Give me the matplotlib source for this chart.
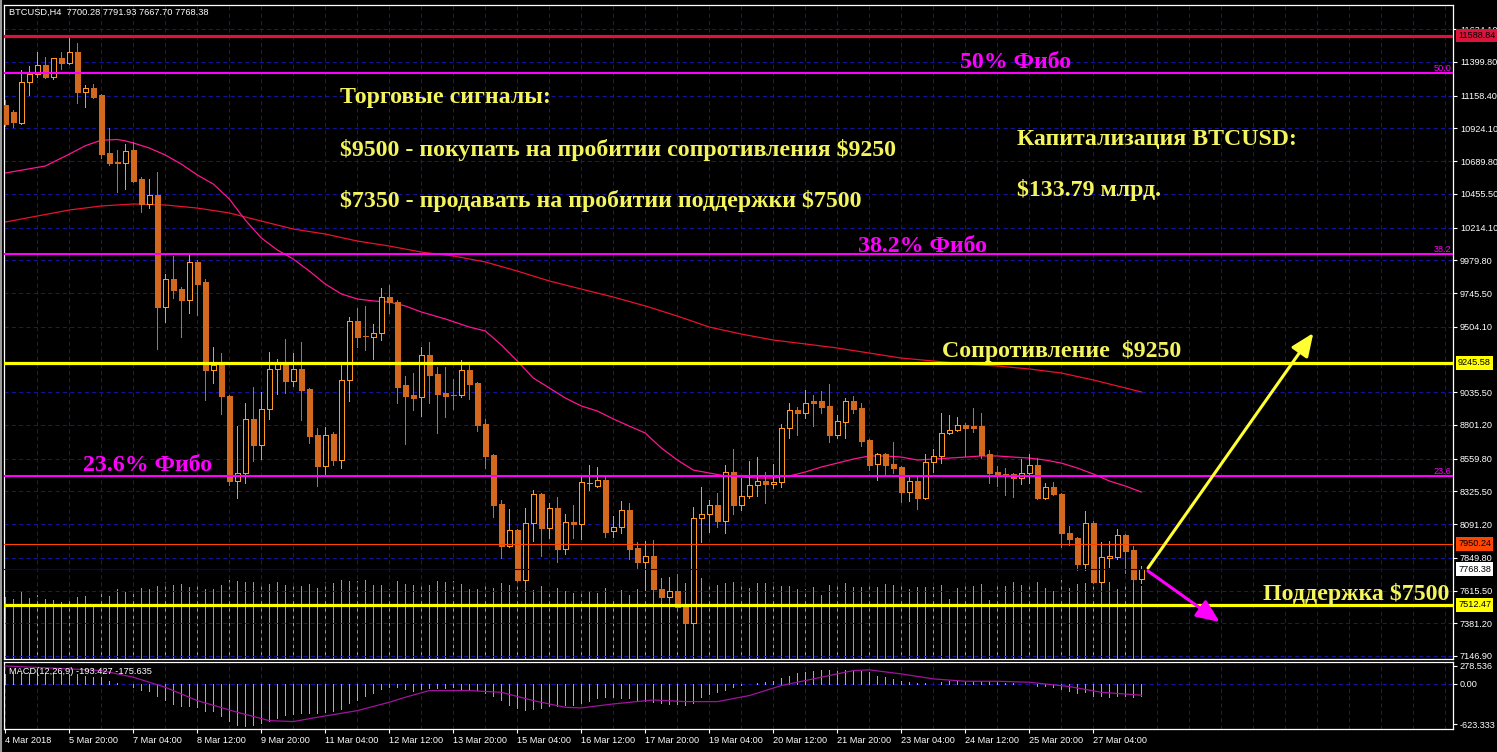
import numpy as np
import matplotlib
matplotlib.use('Agg')
import matplotlib.pyplot as plt
from matplotlib.lines import Line2D

plt.rcParams['font.family'] = ['Liberation Sans', 'DejaVu Sans']

# ---------------- data ----------------
opens = [11092,11042,10963,11257,11314,11378,11292,11428,11393,11471,
         11185,11214,11164,10748,10684,10677,10770,10562,10383,10448,
         9646,9846,9775,9696,9968,9825,9195,9230,9008,8400,
         8457,8844,8658,8915,9202,9245,9116,9202,9059,8729,
         8507,8736,8550,9123,9545,9438,9431,9459,9717,9681,
         9087,9016,9001,9302,9166,9030,9016,9016,9195,9101,
         8808,8586,8235,7934,8049,7691,8099,8307,8063,8206,
         7913,8106,8092,8386,8364,8407,8042,8070,8192,7920,
         7820,7863,7627,7569,7612,7512,7383,8135,8164,8228,
         8113,8464,8228,8292,8371,8400,8378,8393,8779,8908,
         8887,8972,8972,8937,8729,8822,8972,8922,8693,8522,
         8593,8522,8500,8321,8400,8278,8536,8579,8743,8765,
         8801,8794,8794,8593,8464,8450,8450,8421,8457,8514,
         8278,8357,8307,8027,7992,7806,8099,7677,7848,7856,
         8013,7906,7700.28]
highs = [11128,11056,11343,11371,11471,11436,11428,11471,11589,11536,
         11235,11242,11171,10927,10770,10813,10827,10576,10562,10612,
         9882,10011,9789,10018,9982,9846,9359,9316,9015,8794,
         8958,9073,9037,9323,9273,9417,9316,9395,9066,8779,
         8786,8751,9245,9574,9638,9653,9524,9782,9803,9696,
         9152,9173,9359,9395,9216,9216,9130,9266,9230,9109,
         8844,8593,8264,8199,8056,8206,8335,8314,8242,8285,
         8164,8228,8429,8514,8500,8429,8149,8257,8242,7963,
         7970,7977,7634,7712,7734,7519,8214,8357,8264,8314,
         8514,8629,8421,8543,8572,8464,8522,8808,8958,8930,
         9051,9016,9044,9094,8872,8994,9008,8958,8700,8600,
         8600,8679,8507,8429,8429,8593,8629,8887,8872,8858,
         8815,8922,8887,8622,8507,8493,8457,8557,8593,8564,
         8385,8393,8314,8077,7999,8185,8113,7963,7970,8056,
         8020,7934,7791.93]
lows = [10942,10934,10956,11164,11292,11285,11278,11350,11386,11106,
        11078,11142,10712,10662,10469,10491,10541,10326,10354,9345,
        9538,9710,9431,9603,9588,8980,9101,8880,8371,8278,
        8385,8543,8557,8844,9023,9030,9080,8837,8672,8364,
        8443,8514,8493,8973,9359,9338,9273,9409,9603,8958,
        8665,8908,8865,8958,8743,8858,8915,9001,8987,8758,
        8493,8142,7848,7927,7684,7669,7970,7863,7992,7820,
        7877,7992,7985,8335,8357,7999,7999,8027,7841,7770,
        7619,7605,7548,7548,7483,7376,7376,7963,8035,8070,
        8027,8164,8192,8278,8292,8242,8350,8357,8708,8729,
        8851,8794,8887,8679,8708,8708,8887,8650,8479,8407,
        8443,8457,8249,8257,8199,8271,8464,8529,8736,8758,
        8579,8751,8564,8385,8364,8300,8285,8378,8385,8271,
        8271,8300,7927,7942,7763,7763,7669,7669,7784,7841,
        7741,7680,7667.70]
closes = [10956,10970,11257,11314,11378,11292,11428,11393,11471,11185,
          11214,11149,10741,10677,10680,10763,10548,10383,10448,9646,
          9846,9767,9696,9968,9810,9195,9230,9008,8400,8457,
          8844,8658,8915,9202,9245,9116,9202,9051,8722,8507,
          8729,8550,9123,9545,9431,9436,9459,9717,9681,9073,
          9008,8994,9302,9159,9023,9008,9013,9195,9094,8801,
          8579,8228,7934,8049,7691,8099,8307,8063,8206,7913,
          8106,8092,8393,8388,8407,8035,8070,8192,7913,7820,
          7863,7627,7569,7612,7498,7383,8135,8164,8228,8113,
          8464,8228,8292,8371,8400,8378,8393,8779,8908,8887,
          8958,8958,8930,8729,8829,8972,8915,8686,8514,8593,
          8514,8493,8321,8400,8278,8536,8579,8743,8765,8801,
          8779,8779,8586,8457,8443,8448,8421,8457,8514,8278,
          8357,8307,8027,7985,7806,8099,7677,7856,7863,8013,
          7899,7700,7768.38]
volumes = [6200,6000,6700,6100,6400,6000,5900,5700,6000,6200,
           6300,5300,6900,6300,7000,6700,6500,7100,7000,7300,
           7700,7400,7500,7200,7600,7000,7000,7400,7900,7800,
           7700,7700,7400,7500,7700,7400,7300,7300,7500,7100,
           7700,7600,7900,7800,7800,7900,7400,7400,7000,7800,
           7500,7400,7500,7400,7800,7700,7800,7500,7000,7000,
           7500,7100,7600,7400,7800,7900,6900,7300,6800,7100,
           6800,6600,6600,6800,6600,7100,6200,6900,6400,7000,
           7400,7700,8100,8200,7500,7600,7700,8100,7600,7400,
           7600,7700,7700,7100,7600,7600,7700,7300,7300,7000,
           7000,7200,6400,7400,7400,7600,7200,7200,7500,7200,
           7500,7400,7600,7000,7200,7200,7200,7400,6000,7100,
           7400,7300,7500,5900,7500,7300,7700,7400,7500,7700,
           7100,6800,7900,7100,7500,7600,7800,7700,7700,7000,
           7500,7900,7300]
macd_hist = [160,165,168,170,172,170,168,165,160,152,130,114,100,52,12,4,
             -52,-88,-114,-181,-249,-311,-347,-347,-363,-415,
             -425,-492,-580,-640,-655,-640,-600,-570,-530,-490,
             -466,-450,-445,-450,-430,-420,-389,-300,-243,-181,
             -145,-78,-52,-41,-78,-104,-78,-62,-62,-62,
             -52,-78,-93,-93,-145,-195,
             -255,-320,-370,-400,-385,-370,-350,-345,-330,-320,
             -300,-260,-215,-200,-210,-215,-225,-250,-270,-275,
             -290,-305,-315,-330,-290,-210,-160,-125,-90,-52,
             -16,0,10,26,52,93,130,166,181,207,
             218,223,207,218,207,197,181,130,114,78,
             52,26,10,10,0,26,41,52,52,41,
             41,41,26,
             10,10,0,-5,-31,-36,-52,-78,-114,-145,-130,-181,-192,-207,-181,-181,-207,-193.427]
sig_idx = [0,8,12,16,20,24,29,33,36,39,44,48,50,53,58,62,66,70,72,76,81,85,89,93,97,102,106,108,112,116,120,124,128,133,137,142]
sig_val = [278,233,207,104,-52,-259,-440,-570,-585,-518,-415,-285,-207,-104,-104,-130,-259,-363,-373,-311,
           -249,-275,-275,-181,-26,104,207,218,155,78,41,41,26,-41,-130,-175.635]
fast_idx = [0,5,8,10,12,14,15,16,18,20,22,24,26,28,30,32,34,36,38,40,42,44,46,48,50,52,55,58,60,62,64,66,68,
            70,72,74,76,78,80,82,84,86,88,90,92,94,96,98,100,102,104,106,108,110,112,114,116,118,120,
            122,124,126,128,130,132,134,136,138,140,142]
fast_val = [10605,10655,10740,10800,10840,10845,10835,10820,10784,10734,10669,10591,10526,10419,10268,10140,10054,9989,9903,
            9810,9739,9703,9689,9681,9653,9610,9560,9502,9474,9374,9259,9137,9066,8994,8937,8901,8844,8793,
            8743,8636,8550,8478,8457,8436,8428,8421,8421,8436,8464,8500,8528,8557,8579,8579,8571,8550,8557,
            8564,8571,8579,8579,8571,8564,8550,8528,8493,8450,8400,8364,8321]
slow_idx = [0,4,8,12,16,20,24,28,32,36,40,44,48,52,56,60,64,68,72,76,80,84,88,92,96,100,104,108,112,
            116,120,124,128,132,136,140,142]
slow_val = [10254,10297,10340,10369,10383,10376,10354,10319,10261,10204,10168,10118,10082,10039,10011,
            9968,9903,9832,9774,9717,9653,9581,9502,9452,9409,9381,9352,9316,9280,9259,9237,9223,9202,
            9173,9123,9066,9037]
price_ticks = [11634.10, 11399.80, 11158.40, 10924.10, 10689.80, 10455.50, 10214.10, 9979.80, 9745.50,
               9504.10, 9035.50, 8801.20, 8559.80, 8325.50, 8091.20, 7849.80, 7615.50, 7381.20, 7146.90]
macd_ticks = [278.536, 0.0, -623.333]
macd_tick_labels = ['278.536', '0.00', '-623.333']
date_labels = ['4 Mar 2018', '5 Mar 20:00', '7 Mar 04:00', '8 Mar 12:00', '9 Mar 20:00', '11 Mar 04:00',
               '12 Mar 12:00', '13 Mar 20:00', '15 Mar 04:00', '16 Mar 12:00', '17 Mar 20:00',
               '19 Mar 04:00', '20 Mar 12:00', '21 Mar 20:00', '23 Mar 04:00', '24 Mar 12:00',
               '25 Mar 20:00', '27 Mar 04:00']
date_bars = list(range(0, 137, 8))
top_line = 11588.84
fib_levels = [11319.0, 10025.0, 8435.5]
fib_names = ['50.0', '38.2', '23.6']
yellow_levels = [9245.58, 7512.47]
order_level = 7950.24
bid_level = 7768.38
arrow_up = [(142.84, 7777.0), (163.5, 9459.0)]
arrow_down = [(142.84, 7755.0), (151.8, 7390.0)]

# ---------------- figure ----------------
W, H = 1497, 752
BG = 'black'
GRID = '#12129a'
BULL = '#FF9A1F'
BEAR = '#D2691E'
YEL = '#F4F45C'
MAG = '#FF00FF'
PX = 0.72  # one pixel in points

fig = plt.figure(figsize=(W / 100, H / 100), dpi=100, facecolor=BG)
XL = (-0.16, 180.96)
rect_main = [4 / W, 1 - 659 / H, 1449 / W, 654 / H]

axv = fig.add_axes(rect_main, zorder=0)
axv.set_xlim(*XL)
axv.set_ylim(0, 65400)
axv.set_axis_off()

ax = fig.add_axes(rect_main, zorder=1)
ax.set_facecolor('none')
ax.set_xlim(*XL)
ax.set_ylim(7125.3, 11807.9)

idx = np.arange(len(opens))
o = np.array(opens, float); h = np.array(highs, float)
l = np.array(lows, float); c = np.array(closes, float)
bull = c >= o

axv.vlines(idx, 0, volumes, color='#2EE62E', lw=PX, antialiased=False)

# grid
ax.yaxis.tick_right()
ax.set_yticks(price_ticks)
ax.set_yticklabels([f'{v:.2f}' for v in price_ticks])
ax.set_xticks(np.arange(4, 181, 4))
ax.tick_params(axis='x', length=0, labelbottom=False)
ax.tick_params(axis='y', colors='white', labelcolor='white', labelsize=6.6, length=3,
               width=0.8, pad=2, direction='out')
ax.set_axisbelow(True)
ax.grid(True, color=GRID, lw=0.75, ls=(0, (4, 3)))
for s in ax.spines.values():
    s.set_color('white'); s.set_linewidth(0.9)

# moving averages
ax.plot(slow_idx, slow_val, color='#E8122E', lw=0.9, zorder=2)
ax.plot(fast_idx, fast_val, color='#FF1493', lw=0.9, zorder=2)

# candles
ax.vlines(idx[bull], l[bull], h[bull], color=BULL, lw=PX, zorder=3, antialiased=False)
ax.vlines(idx[~bull], l[~bull], h[~bull], color=BEAR, lw=PX, zorder=3, antialiased=False)
bot = np.minimum(o, c)
hgt = np.abs(c - o)
ax.bar(idx[bull], hgt[bull], 0.6, bottom=bot[bull], facecolor='black', edgecolor=BULL, lw=PX,
       zorder=4, antialiased=False)
ax.bar(idx[~bull], hgt[~bull], 0.6, bottom=bot[~bull], facecolor=BEAR, edgecolor=BEAR, lw=PX,
       zorder=4, antialiased=False)

# horizontal objects
ax.axhline(top_line, color='#DC143C', lw=2.3, zorder=5)
for v in fib_levels:
    ax.axhline(v, color=MAG, lw=1.5, zorder=5)
for v in yellow_levels:
    ax.axhline(v, color='#FFFF00', lw=2.3, zorder=5)
ax.axhline(order_level, color='#FF4500', lw=0.8, zorder=5)
ax.axhline(bid_level, color='#000090', lw=0.8, zorder=5)

ytr = ax.get_yaxis_transform()
for v, nm in zip(fib_levels, fib_names):
    ax.text(0.9988, v, nm, transform=ytr, ha='right', va='bottom', fontsize=6.6, color=MAG, zorder=7)

for v, colr in [(top_line, '#DC143C'), (yellow_levels[0], '#FFFF00'), (order_level, '#FF4500'),
                (bid_level, '#FFFFFF'), (yellow_levels[1], '#FFFF00')]:
    ax.text(1.0035, v, f'{v:.2f}', transform=ytr, ha='left', va='center', fontsize=6.6, color='black',
            bbox=dict(boxstyle='square,pad=0.25', fc=colr, ec='none'), zorder=20, clip_on=False)

# arrows
ax.annotate('', xy=arrow_up[1], xytext=arrow_up[0],
            arrowprops=dict(arrowstyle='-|>,head_length=0.7,head_width=0.3', color='#FFFF33', lw=2.2,
                            mutation_scale=20, shrinkA=0, shrinkB=0), zorder=6)
ax.annotate('', xy=arrow_down[1], xytext=arrow_down[0],
            arrowprops=dict(arrowstyle='-|>,head_length=0.7,head_width=0.3', color=MAG, lw=2.2,
                            mutation_scale=20, shrinkA=0, shrinkB=0), zorder=6)

# ---------------- MACD pane ----------------
ax2 = fig.add_axes([4 / W, 1 - 729 / H, 1449 / W, 67 / H])
ax2.set_facecolor(BG)
ax2.set_xlim(*XL)
ax2.set_ylim(-700, 340)
ax2.axhline(0, color=GRID, lw=0.75, ls=(0, (4, 3)), zorder=0.5)
ax2.vlines(idx, 0, macd_hist, color='#FF9A2A', lw=PX, zorder=2, antialiased=False)
ax2.plot(sig_idx, sig_val, color='#A0139F', lw=0.9, zorder=3)
ax2.yaxis.tick_right()
ax2.set_yticks(macd_ticks)
ax2.set_yticklabels(macd_tick_labels)
ax2.set_xticks(date_bars)
ax2.set_xticklabels(date_labels)
ax2.set_xticks(np.arange(4, 181, 4), minor=True)
ax2.tick_params(axis='x', which='minor', length=0)
ax2.tick_params(axis='both', which='major', colors='white', labelcolor='white', labelsize=6.6,
                length=3, width=0.8, pad=2, direction='out')
for lab in ax2.get_xticklabels():
    lab.set_horizontalalignment('left')
ax2.set_axisbelow(True)
ax2.grid(True, which='both', axis='x', color=GRID, lw=0.75, ls=(0, (4, 3)))
for s in ax2.spines.values():
    s.set_color('white'); s.set_linewidth(0.9)

# ---------------- texts ----------------
def fpos(x, y):
    return x / W, 1 - y / H

fig.text(*fpos(9, 12), 'BTCUSD,H4  7700.28 7791.93 7667.70 7768.38', color='white', fontsize=6.7,
         va='center', ha='left')
fig.text(*fpos(9, 671), 'MACD(12,26,9) -193.427 -175.635', color='white', fontsize=6.7,
         va='center', ha='left')

serif = dict(family=['Liberation Serif', 'DejaVu Serif'], fontweight='bold', fontsize=17.2,
             va='baseline', ha='left')
fig.text(*fpos(340, 103), 'Торговые сигналы:', color=YEL, **serif)
fig.text(*fpos(340, 156), '\\$9500 - покупать на пробитии сопротивления \\$9250', color=YEL, **serif)
fig.text(*fpos(340, 207), '\\$7350 - продавать на пробитии поддержки \\$7500', color=YEL, **serif)
fig.text(*fpos(1017, 145), 'Капитализация BTCUSD:', color=YEL, **serif)
fig.text(*fpos(1017, 196), '\\$133.79 млрд.', color=YEL, **serif)
fig.text(*fpos(942, 357), 'Сопротивление  \\$9250', color=YEL, **serif)
fig.text(*fpos(1263, 600), 'Поддержка \\$7500', color=YEL, **serif)
fig.text(*fpos(960, 68), '50% Фибо', color=MAG, **serif)
fig.text(*fpos(858, 252), '38.2% Фибо', color=MAG, **serif)
fig.text(*fpos(83, 471), '23.6% Фибо', color=MAG, **serif)

fig.add_artist(Line2D([1.5 / W, 1.5 / W], [0, 1], color='#9a9a9a', lw=1.5))

fig.savefig('out.png', dpi=100, facecolor=BG)
